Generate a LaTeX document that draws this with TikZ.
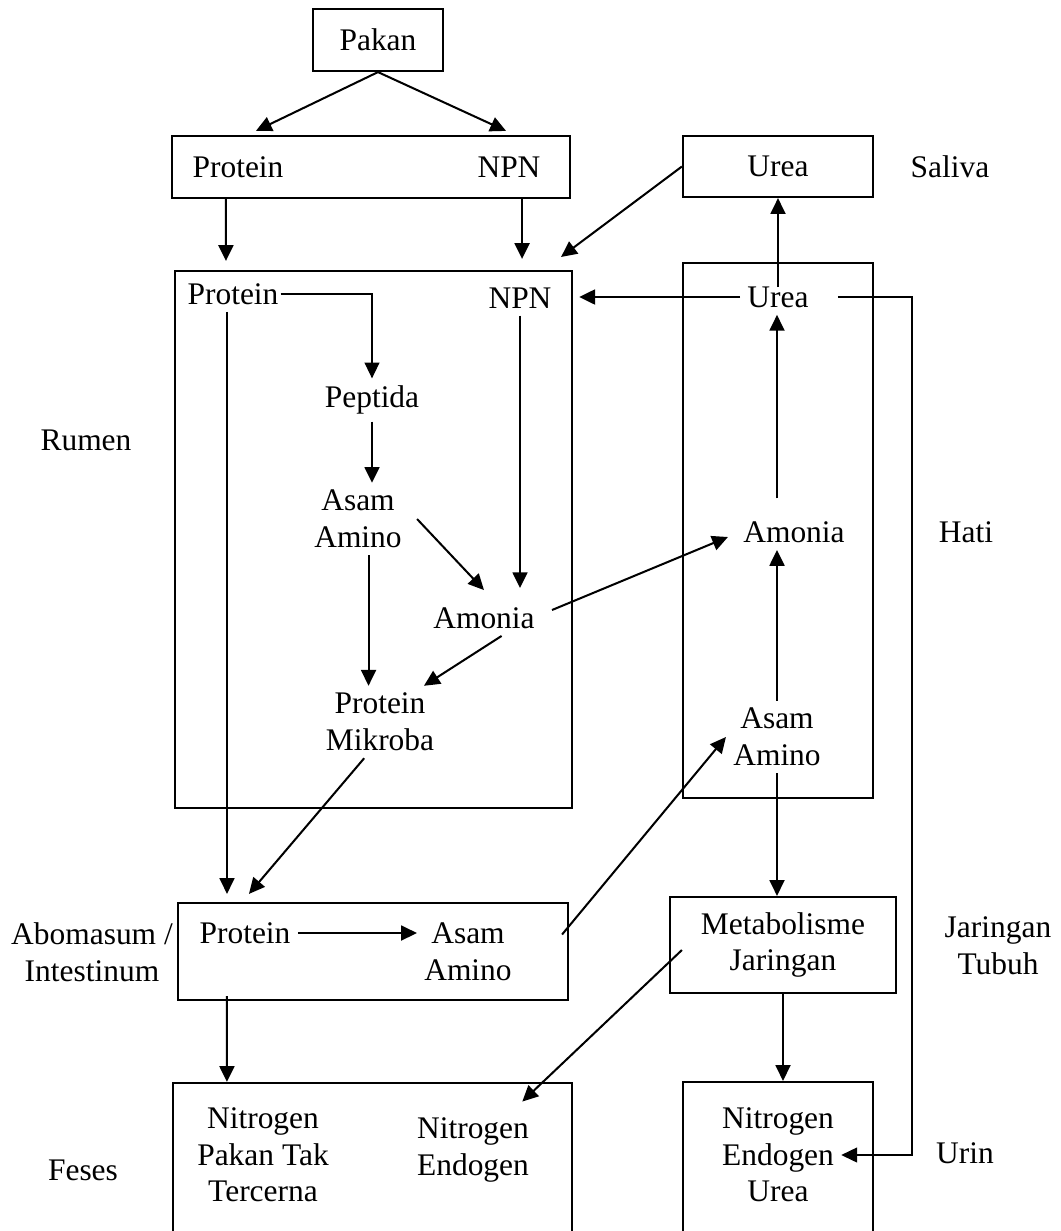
\documentclass[tikz,border=0pt]{standalone}
\usepackage{fontspec}
\setmainfont{Liberation Serif}
\usetikzlibrary{arrows.meta}

\begin{document}
\begin{tikzpicture}[
  x=0.02cm, y=-0.02cm,
  every node/.style={font=\fontsize{17.9}{20.8}\selectfont, align=center, inner sep=4pt},
  box/.style={draw, line width=1.25pt, inner sep=0pt},
  arr/.style={-{Triangle[length=9pt,width=8.5pt]}, line width=1.15pt},
  thinarr/.style={-{Triangle[length=9pt,width=8.5pt]}, line width=0.65pt}
]
  \useasboundingbox (0,0) rectangle (1061,1231);
  \clip (0,0) rectangle (1061,1231);

  % boxes
  \node[box, minimum width=2.6cm, minimum height=1.24cm] (pakan) at (378,40) {Pakan};
  \node[box, minimum width=7.96cm, minimum height=1.24cm] (pn) at (371,167) {};
  \node[box, minimum width=3.8cm, minimum height=1.22cm] (sal) at (778,166.5) {Urea};
  \node[box, minimum width=7.94cm, minimum height=10.74cm] (rum) at (373.5,539.5) {};
  \node[box, minimum width=3.8cm, minimum height=10.7cm] (hati) at (778,530.5) {};
  \node[box, minimum width=7.8cm, minimum height=1.94cm] (abo) at (373,951.5) {};
  \node[box, minimum width=4.52cm, minimum height=1.92cm] (met) at (783,945) {Metabolisme\\Jaringan};
  \node[box, minimum width=7.98cm, minimum height=3.6cm] (fes) at (372.5,1173) {};
  \node[box, minimum width=3.8cm, minimum height=3.6cm] (nub) at (778,1172) {};

  % texts
  \node (prot1) at (238,167) {Protein};
  \node (npn1) at (509,167) {NPN};
  \node (prot2) at (233,294) {Protein};
  \node (npn2) at (520,298) {NPN};
  \node (pep) at (372,400) {Peptida};
  \node (aa1) at (358,519) {Asam\\Amino};
  \node (amon1) at (484,618) {Amonia};
  \node (pmik) at (380,722) {Protein\\Mikroba};
  \node (urea2) at (778,297) {Urea};
  \node (amon2) at (794,532) {Amonia};
  \node (aa2) at (777,737) {Asam\\Amino};
  \node (prot3) at (245,933) {Protein};
  \node (aa3) at (468,952) {Asam\\Amino};
  \node (nfp) at (263,1155) {Nitrogen\\Pakan Tak\\Tercerna};
  \node (nen) at (473,1150) {Nitrogen\\Endogen};
  \node (nur) at (778,1155) {Nitrogen\\Endogen\\Urea};

  % labels
  \node (lsal) at (950,167) {Saliva};
  \node (lrum) at (86,440) {Rumen};
  \node (lhati) at (966,532) {Hati};
  \node (labo) at (92,952) {Abomasum /\\Intestinum};
  \node (ljar) at (998,946) {Jaringan\\Tubuh};
  \node (lfes) at (83,1170) {Feses};
  \node (lurin) at (965,1153) {Urin};

  \coordinate (ucor) at (912,297);

  % connectors
  \draw[arr] (pakan.south) -- ([shift={(85,-4)}]pn.north west);
  \draw[arr] (pakan.south) -- ([shift={(-65,-4)}]pn.north east);
  \draw[arr] ([shift={(55,0)}]pn.south west) -- ([shift={(52,-9)}]rum.north west);
  \draw[arr] ([shift={(-49,0)}]pn.south east) -- ([shift={(-51,-11)}]rum.north east);
  \draw[arr] (sal.west) -- ([shift={(-12,-13)}]rum.north east);
  \draw[arr, shorten <=-4.5pt] (urea2.north) -- (urea2.north |- sal.south);
  \draw[arr] (urea2.west) -- ([xshift=3.5pt]rum.east |- urea2.west);
  \draw[thinarr] ([xshift=12.5pt]urea2.east) -- (ucor) |- (nur.east);

  \draw[thinarr] ([xshift=-3pt]prot2.east) -| (pep.north);
  \draw[arr] ([shift={(-6,0)}]prot2.south) -- ([shift={(-6,-8)}]prot2.south |- abo.north);
  \draw[arr] (pep.south) -- (pep.south |- aa1.north);
  \draw[arr] ([xshift=6pt]aa1.south) -- ([xshift=6pt]aa1.south |- pmik.north);
  \draw[arr] ([shift={(8,0)}]aa1.east) -- ([shift={(0,-10)}]amon1.north);
  \draw[arr] (npn2.south) -- ([shift={(0,-12)}]npn2.south |- amon1.north);
  \draw[arr] ([xshift=10pt]amon1.south) -- ([xshift=-10pt]pmik.north east);
  \draw[arr] ([shift={(10,-8)}]amon1.east) -- ([shift={(-8,5)}]amon2.west);
  \draw[arr] ([xshift=-9pt]pmik.south) -- ([shift={(72,-8)}]abo.north west);

  \draw[arr] (aa2.north) -- (aa2.north |- amon2.south);
  \draw[arr, shorten <=9pt] (aa2.north |- amon2.north) -- (aa2.north |- urea2.south);
  \draw[arr] (aa2.south) -- (aa2.south |- met.north);
  \draw[arr] (met.south) -- (met.south |- nub.north);
  \draw[arr] ([shift={(13,5)}]met.west) -- ([shift={(-14,-9)}]nen.north east);

  \draw[arr] (prot3.east) -- (prot3.east -| aa3.west);
  \draw[arr] ([shift={(-7,-17)}]abo.east) -- (aa2.west);
  \draw[arr] ([shift={(50,-5)}]abo.south west) -- ([shift={(55,0)}]fes.north west);
\end{tikzpicture}
\end{document}
